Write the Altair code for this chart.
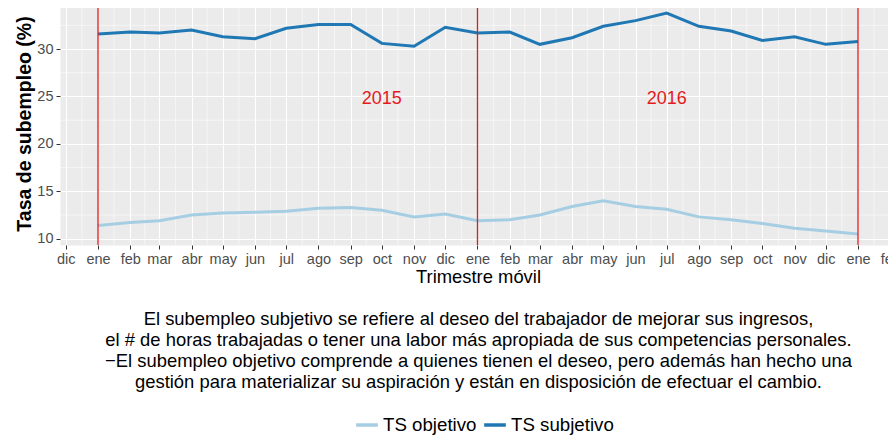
import altair as alt
import pandas as pd

# ---- data ----
months = ["2015-01-01", "2015-02-01", "2015-03-01", "2015-04-01", "2015-05-01", "2015-06-01",
          "2015-07-01", "2015-08-01", "2015-09-01", "2015-10-01", "2015-11-01", "2015-12-01",
          "2016-01-01", "2016-02-01", "2016-03-01", "2016-04-01", "2016-05-01", "2016-06-01",
          "2016-07-01", "2016-08-01", "2016-09-01", "2016-10-01", "2016-11-01", "2016-12-01",
          "2017-01-01"]
ts_subjetivo = [31.6, 31.8, 31.7, 32.0, 31.3, 31.1, 32.2, 32.6, 32.6, 30.6, 30.3, 32.3,
                31.7, 31.8, 30.5, 31.2, 32.4, 33.0, 33.8, 32.4, 31.9, 30.9, 31.3, 30.5, 30.8]
ts_objetivo = [11.4, 11.7, 11.9, 12.5, 12.7, 12.8, 12.9, 13.2, 13.3, 13.0, 12.3, 12.6,
               11.9, 12.0, 12.5, 13.4, 14.0, 13.4, 13.1, 12.3, 12.0, 11.6, 11.1, 10.8, 10.5]
series_names = ["TS objetivo", "TS subjetivo"]
series_colors = ["#a6cee3", "#1f78b4"]

year_lines = ["2015-01-01", "2016-01-01", "2017-01-01"]
year_labels = ["2015", "2016"]
year_label_dates = ["2015-10-01", "2016-07-01"]
year_label_y = [25, 25]

tick_months = ["2014-12-01"] + months + ["2017-02-01"]
month_abbr = ["ene", "feb", "mar", "abr", "may", "jun", "jul", "ago", "sep", "oct", "nov", "dic"]
y_major = [10, 15, 20, 25, 30]
y_minor = [12.5, 17.5, 22.5, 27.5, 32.5]

x_title = "Trimestre móvil"
caption = [
    "El subempleo subjetivo se refiere al deseo del trabajador de mejorar sus ingresos,",
    "el # de horas trabajadas o tener una labor más apropiada de sus competencias personales.",
    "\u2212El subempleo objetivo comprende a quienes tienen el deseo, pero además han hecho una",
    "gestión para materializar su aspiración y están en disposición de efectuar el cambio.",
]

# ---- tables ----
df = pd.DataFrame({
    "fecha": months * 2,
    "valor": ts_objetivo + ts_subjetivo,
    "serie": [series_names[0]] * len(months) + [series_names[1]] * len(months),
})
tm = pd.to_datetime(tick_months)
minor_x = [(tm[i] + (tm[i + 1] - tm[i]) / 2).strftime("%Y-%m-%dT%H:%M:%SZ") for i in range(len(tm) - 1)]
df_minor_x = pd.DataFrame({"fecha": minor_x})
df_minor_y = pd.DataFrame({"valor": y_minor})
df_vl = pd.DataFrame({"fecha": year_lines})
df_txt = pd.DataFrame({"fecha": year_label_dates, "valor": year_label_y, "t": year_labels})

# ggplot-style 5% expansion
t0 = pd.Timestamp(months[0]); t1 = pd.Timestamp(months[-1])
span = t1 - t0
xmin = (t0 - span * 0.05).strftime("%Y-%m-%dT%H:%M:%SZ")
xmax = (t1 + span * 0.05).strftime("%Y-%m-%dT%H:%M:%SZ")
vmin = min(ts_objetivo + ts_subjetivo); vmax = max(ts_objetivo + ts_subjetivo)
ymin = vmin - 0.05 * (vmax - vmin); ymax = vmax + 0.05 * (vmax - vmin)

FONT = "Liberation Sans"
xscale = alt.Scale(type="utc", domain=[xmin, xmax])
yscale = alt.Scale(domain=[ymin, ymax], nice=False, zero=False)

label_expr = "[" + ",".join("'%s'" % m for m in month_abbr) + "][utcmonth(datum.value)]"
tick_values = [int(t.value // 10**6) for t in tm]

x_axis = alt.Axis(values=tick_values, labelExpr=label_expr, title=[x_title, "\u200b"] + caption,
                  grid=True, gridColor="white", gridWidth=1.1, domain=False,
                  tickColor="#333333", tickSize=4, labelColor="#4d4d4d", labelFontSize=14.5,
                  labelFont=FONT, labelPadding=3, titleFont=FONT, titleFontSize=18.4,
                  titleFontWeight="normal", titleColor="black", titlePadding=2,
                  titleLineHeight=20.9, labelOverlap=False, labelFlush=False)
y_axis = alt.Axis(values=y_major, title="Tasa de subempleo (%)", grid=True, gridColor="white",
                  gridWidth=1.1, domain=False, tickColor="#333333", tickSize=4,
                  labelColor="#4d4d4d", labelFontSize=14.5, labelFont=FONT, labelPadding=3,
                  titleFont=FONT, titleFontSize=19.5, titleFontWeight="bold", titleColor="black",
                  titlePadding=2)

X = alt.X("fecha:T", scale=xscale, axis=x_axis)
Y = alt.Y("valor:Q", scale=yscale, axis=y_axis)

minor_x_layer = alt.Chart(df_minor_x).mark_rule(color="white", strokeWidth=0.55).encode(x=X)
minor_y_layer = alt.Chart(df_minor_y).mark_rule(color="white", strokeWidth=0.55).encode(y=Y)

lines = alt.Chart(df).mark_line(strokeWidth=3).encode(
    x=X, y=Y,
    color=alt.Color("serie:N", scale=alt.Scale(domain=series_names, range=series_colors),
                    legend=alt.Legend(title=None, orient="none", legendX=294, legendY=410,
                                      direction="horizontal", symbolType="stroke",
                                      symbolStrokeWidth=3.5, symbolSize=470,
                                      labelFont=FONT, labelFontSize=18.7, labelColor="black",
                                      labelOffset=3, columnPadding=0, gridAlign="none")),
)

vlines = alt.Chart(df_vl).mark_rule(color="#e41a1c", strokeWidth=1.3).encode(x=X)

texts = alt.Chart(df_txt).mark_text(color="#e41a1c", fontSize=18, font=FONT, dy=3).encode(
    x=X, y=Y, text="t:N")

chart = alt.layer(minor_x_layer, minor_y_layer, lines, vlines, texts).properties(
    width=836, height=243,
    autosize=alt.AutoSizeParams(type="none"),
    padding={"left": 52, "top": -6, "right": -8, "bottom": 191},
    view=alt.ViewBackground(fill="#ebebeb", stroke="transparent"),
).configure_view(fill="#ebebeb", stroke="transparent").configure(background="white")

chart.save("out.html", embed_options={"renderer": "svg", "actions": False})
